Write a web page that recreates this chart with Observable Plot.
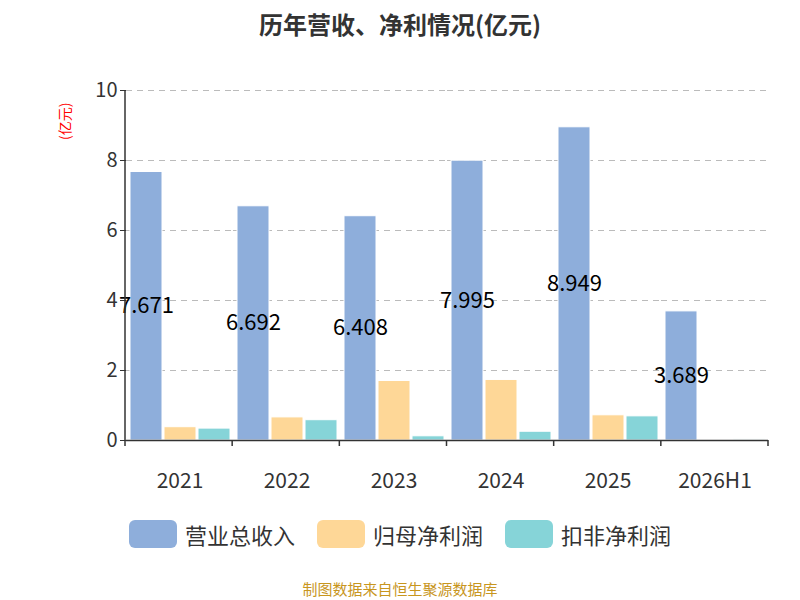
<!DOCTYPE html>
<html><head><meta charset="utf-8">
<script src="https://cdn.jsdelivr.net/npm/d3@7"></script>
<script src="https://cdn.jsdelivr.net/npm/@observablehq/plot@0.6"></script>
<style>
body{margin:0;font-family:"Noto Sans CJK SC","Noto Sans",sans-serif;background:#fff;width:800px;height:600px;position:relative;overflow:hidden}
#title{position:absolute;top:6px;width:800px;text-align:center;font-size:24px;font-weight:bold;color:#333}
#chart{position:absolute;top:0;left:0}
#unit{position:absolute;left:54px;color:red;font-size:14px;transform:rotate(-90deg);transform-origin:left top;top:140px}
#legend{position:absolute;top:518px;width:800px;display:flex;justify-content:center;gap:22px;font-size:22px;color:#333}
#legend span{display:inline-flex;align-items:center}
#legend i{display:inline-block;width:48px;height:28px;border-radius:6px;margin-right:8px}
#src{position:absolute;top:578px;width:800px;text-align:center;font-size:15px;color:#c8961e}
</style></head><body>
<div id="chart"></div>
<div id="title">历年营收、净利情况(亿元)</div>
<div id="unit">(亿元)</div>
<div id="legend"></div>
<div id="src">制图数据来自恒生聚源数据库</div>
<script>
const years=["2021","2022","2023","2024","2025","2026H1"];
const series=["营业总收入","归母净利润","扣非净利润"];
const colors=["#8eaedb","#fed797","#86d4d8"];
const revenue=[7.671,6.692,6.408,7.995,8.949,3.689];
const netProfit=[0.38,0.66,1.70,1.73,0.72,0.02];
const deductedProfit=[0.34,0.58,0.12,0.25,0.69,0.03];
const yTicks=[0,2,4,6,8,10];
const vals=[revenue,netProfit,deductedProfit];
const data=[];
years.forEach((y,i)=>series.forEach((s,j)=>data.push({year:y,series:s,value:vals[j][i]})));
const labels=years.map((y,i)=>({year:y,series:series[0],value:revenue[i]}));
const ML=125,MR=32,W=800;
const chart=Plot.plot({
  width:W,height:600,marginTop:90,marginBottom:160,marginLeft:ML,marginRight:MR,
  style:{fontFamily:"Noto Sans CJK SC, Noto Sans, sans-serif",fontSize:"21px",color:"#333"},
  fx:{domain:years,padding:0,label:null,axis:"bottom",tickSize:0},
  x:{domain:series,paddingInner:0.07,paddingOuter:0.1,axis:null},
  y:{domain:[0,10],ticks:yTicks,label:null},
  color:{domain:series,range:colors},
  marks:[
    Plot.gridY(yTicks.filter(t=>t>0),{stroke:"#bbb",strokeDasharray:"6,5",strokeOpacity:1}),
    Plot.barY(data,{fx:"year",x:"series",y:"value",fill:"series",stroke:"white",strokeWidth:1}),
    Plot.text(labels,{fx:"year",x:"series",y:d=>d.value/2,text:d=>d.value.toFixed(3),fontSize:22,fill:"#000"}),
    Plot.ruleY([0],{stroke:"#333",strokeWidth:1.5}),
    Plot.axisY({ticks:yTicks,tickSize:6,fontSize:20,anchor:"left"})
  ]
});
document.getElementById("chart").appendChild(chart);
const svg=d3.select(chart);
svg.selectAll("[aria-label='fx-axis tick label'] text").attr("dy","1.1em");
const y=chart.scale("y");
const g=svg.append("g").attr("stroke","#333").attr("stroke-width",1.5);
g.append("line").attr("x1",ML).attr("x2",ML).attr("y1",y.apply(10)).attr("y2",y.apply(0));
const step=(W-ML-MR)/years.length;
for(let i=0;i<=years.length;i++){
  const xx=ML+i*step;
  g.append("line").attr("x1",xx).attr("x2",xx).attr("y1",y.apply(0)).attr("y2",y.apply(0)+6);
}
const lg=document.getElementById("legend");
series.forEach((s,j)=>{lg.innerHTML+=`<span><i style="background:${colors[j]}"></i>${s}</span>`;});
</script>
</body></html>
